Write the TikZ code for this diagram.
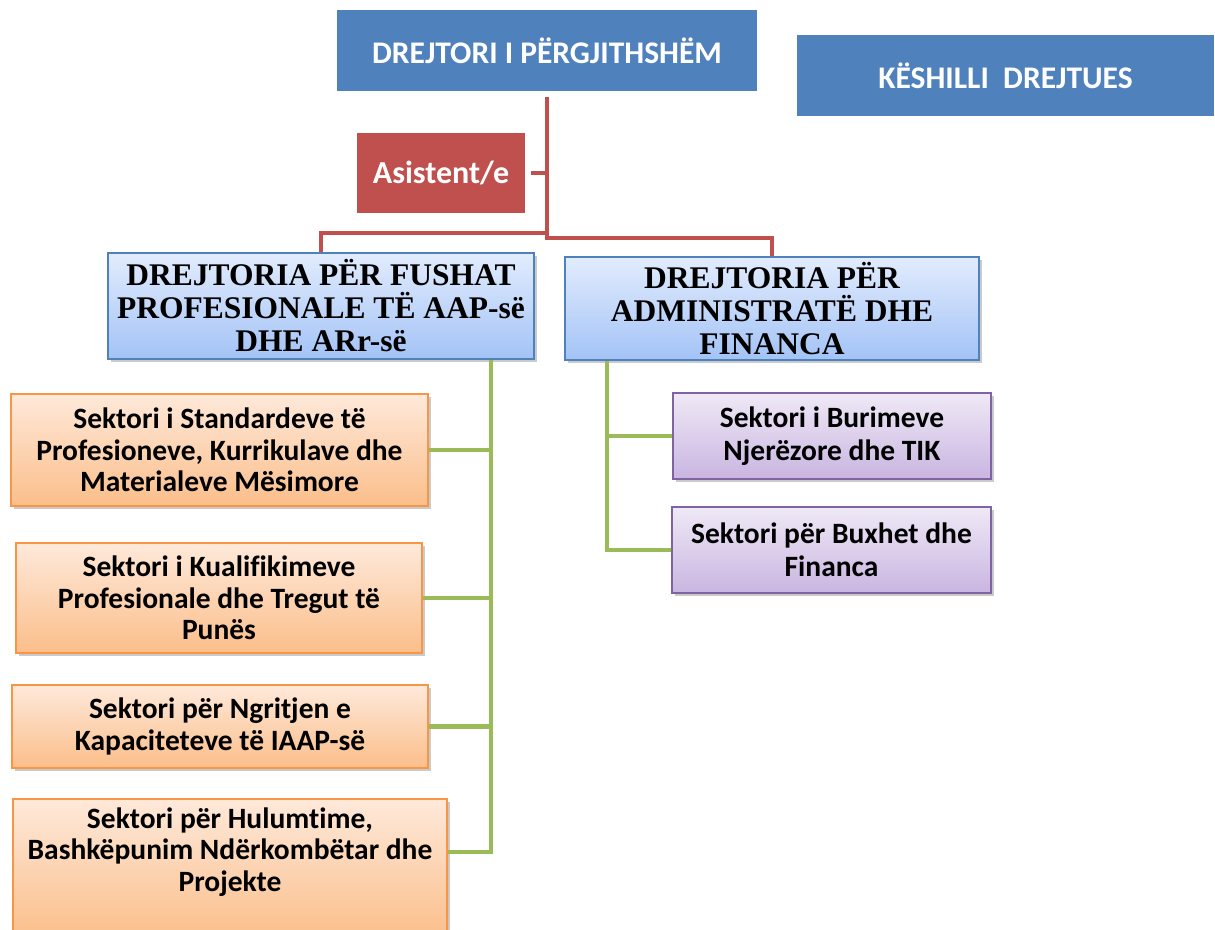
\documentclass[tikz,border=0pt]{standalone}
\usepackage{fontspec}
\setmainfont{Carlito}[Ligatures={NoCommon}]
\newfontfamily\tnrfont{Liberation Serif}
\usetikzlibrary{shadows}
\definecolor{hdrblue}{HTML}{4F81BD}
\definecolor{asred}{HTML}{C0504D}
\definecolor{lngreen}{HTML}{9BBB59}
\definecolor{orbord}{HTML}{F79646}
\definecolor{ortop}{HTML}{FEE9DA}
\definecolor{orbot}{HTML}{FBBE8A}
\definecolor{bltop}{HTML}{E2ECFD}
\definecolor{blbot}{HTML}{A3C3F6}
\definecolor{pptop}{HTML}{EFE9F6}
\definecolor{ppbot}{HTML}{C9B5E1}
\definecolor{ppbord}{HTML}{8064A2}
\begin{document}
\begin{tikzpicture}[x=1pt,y=-1pt,
  headbox/.style={fill=hdrblue, text=white, inner sep=0pt,
    font=\fontsize{31.5}{38}\selectfont\bfseries},
  asisbox/.style={fill=asred, text=white, inner sep=0pt,
    font=\fontsize{32}{38}\selectfont\bfseries},
  softshadow/.style={drop shadow={shadow xshift=2.5pt, shadow yshift=-3pt, opacity=.35, fill=black!60}},
  dirbox/.style={draw=hdrblue, line width=2pt, top color=bltop, bottom color=blbot,
    softshadow, inner sep=0pt, align=center,
    font=\fontsize{31.5}{33}\selectfont\tnrfont\bfseries},
  orbox/.style={draw=orbord, line width=2.2pt, top color=ortop, bottom color=orbot,
    softshadow, inner sep=0pt, align=center,
    font=\fontsize{29.5}{31.5}\selectfont\bfseries},
  ppbox/.style={draw=ppbord, line width=2pt, top color=pptop, bottom color=ppbot,
    softshadow, inner sep=0pt, align=center,
    font=\fontsize{29.5}{32.5}\selectfont\bfseries},
  sectext/.style={inner sep=0pt, align=center,
    font=\fontsize{29.5}{31.5}\selectfont\bfseries},
  redline/.style={draw=asred, line width=4.5pt},
  greenline/.style={draw=lngreen, line width=4.5pt}
]
\useasboundingbox (0,0) rectangle (1215,929);

% top level
\node[headbox, minimum width=420pt, minimum height=81pt] (top) at (547,50.5) {DREJTORI I PËRGJITHSHËM};
\node[headbox, minimum width=417pt, minimum height=81pt] (council) at (1005.5,75.5) {KËSHILLI~~DREJTUES};
\node[asisbox, minimum width=168pt, minimum height=80pt] (asis) at (441,173) {Asistent/e};

% directorates
\node[dirbox, minimum width=426pt, minimum height=106pt] (dirA) at (321,306)
  {DREJTORIA PËR FUSHAT\\PROFESIONALE TË AAP-së\\DHE ARr-së};
\node[dirbox, minimum width=414pt, minimum height=103pt] (dirB) at (772,308.5)
  {DREJTORIA PËR\\ADMINISTRATË DHE\\FINANCA};

% sectors, left
\node[orbox, minimum width=417pt, minimum height=112pt] (s1) at (219.5,450)
  {Sektori i Standardeve të\\Profesioneve, Kurrikulave dhe\\Materialeve Mësimore};
\node[orbox, minimum width=406pt, minimum height=110pt] (s2) at (219,598)
  {Sektori i Kualifikimeve\\Profesionale dhe Tregut të\\Punës};
\node[orbox, minimum width=416pt, minimum height=83pt] (s3) at (220,726.5)
  {Sektori për Ngritjen e\\Kapaciteteve të IAAP-së};
\node[orbox, minimum width=434pt, minimum height=141pt] (s4box) at (230,869.5) {};
\node[sectext] (s4) at (230,852)
  {Sektori për Hulumtime,\\Bashkëpunim Ndërkombëtar dhe\\Projekte};

% sectors, right
\node[ppbox, minimum width=318pt, minimum height=86pt] (p1) at (832,436)
  {Sektori i Burimeve\\Njerëzore dhe TIK};
\node[ppbox, minimum width=319pt, minimum height=86pt] (p2) at (831.5,550)
  {Sektori për Buxhet dhe\\Financa};

% red connectors
\coordinate (rj) at ([yshift=-147pt]top.south);
\draw[redline] ([yshift=-6pt]top.south) -- (rj) -| (dirB.north);
\draw[redline] ([yshift=5pt]rj) -| (dirA.north);
\draw[redline, shorten <=6pt] (asis.east) -- (asis.east -| rj);

% green connectors, left
\coordinate (gA) at ([xshift=170pt]dirA.south);
\draw[greenline] (gA) |- (s4box.east |- s4);
\draw[greenline] (s1.east) -- (s1.east -| gA);
\draw[greenline] (s2.east) -- (s2.east -| gA);
\draw[greenline] (s3.east) -- (s3.east -| gA);

% green connectors, right
\coordinate (gB) at ([xshift=-165pt]dirB.south);
\draw[greenline] (gB) |- (p2.west);
\draw[greenline] (p1.west) -- (p1.west -| gB);
\end{tikzpicture}
\end{document}
